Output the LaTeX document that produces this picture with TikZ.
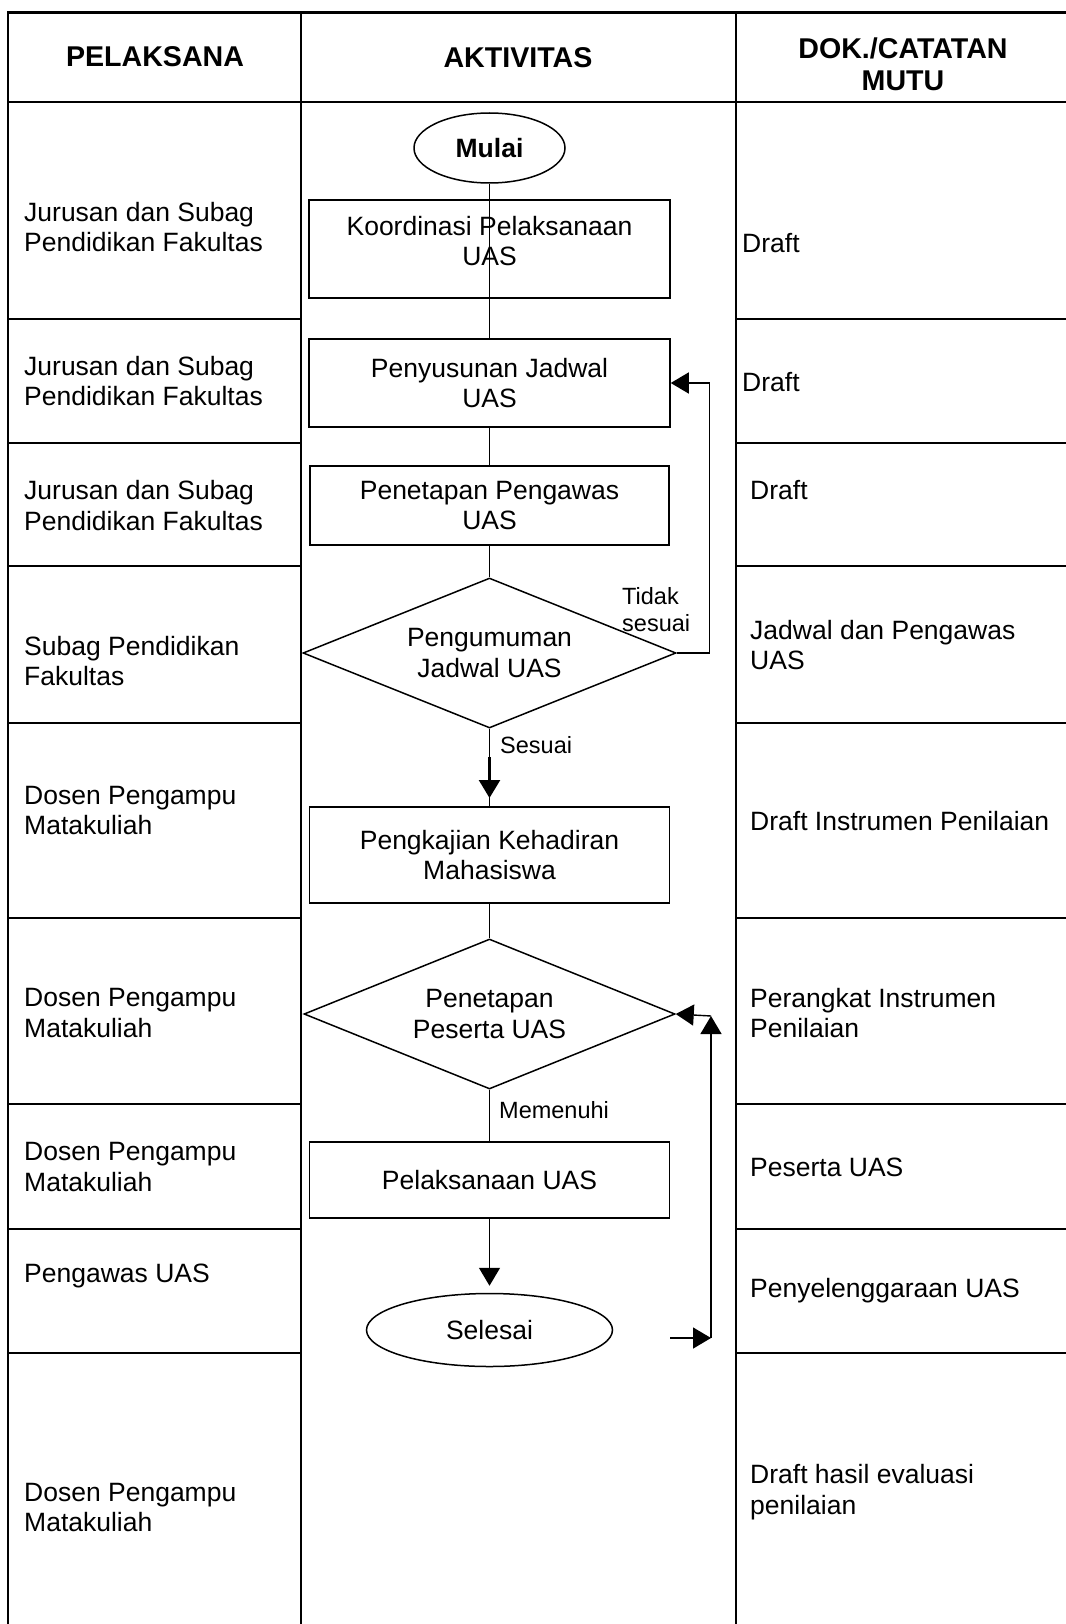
\documentclass[tikz,border=0pt]{standalone}
\usepackage{fontspec}
\setmainfont{Liberation Sans}
\usetikzlibrary{shapes.geometric,arrows.meta}
\newcommand\fmain{\fontsize{26.5}{30.5}\selectfont}
\newcommand\fhead{\fontsize{28.6}{32}\selectfont\bfseries}
\newcommand\flab{\fontsize{23.5}{27}\selectfont}
\tikzset{
  grid/.style={line width=2.4pt},
  box/.style={draw, line width=1.5pt, rectangle, inner sep=0pt, align=center, font=\fmain},
  dia/.style={draw, line width=1.5pt, diamond, aspect=2.5, inner sep=0pt, align=center, font=\fmain},
  oval/.style={draw, line width=1.5pt, ellipse, inner sep=0pt, font=\fmain},
  conn/.style={line width=1.4pt},
  arr/.style={line width=1.4pt, -{Triangle[length=18pt,width=21pt]}},
  lt/.style={anchor=west, align=left, inner sep=0pt, font=\fmain},
  hd/.style={align=center, inner sep=0pt, font=\fhead},
  lb/.style={anchor=west, align=left, inner sep=0pt, font=\flab}
}
\begin{document}
\begin{tikzpicture}[x=1pt,y=-1pt]
\useasboundingbox (0,0) rectangle (1065,1624);
% table
\draw[grid] (8,1640) -- (8,12.7) -- (1080,12.7);
\draw[grid] (8,102) -- (1080,102);
\draw[grid] (301,12.7) -- (301,1640);
\draw[grid] (736,12.7) -- (736,1640);
\foreach \yy in {319,443,566,723,918,1104,1229,1353}{
  \draw[grid] (8,\yy) -- (301,\yy);
  \draw[grid] (736,\yy) -- (1080,\yy);
}
% headers
\node[hd] (h1) at (155,57) {PELAKSANA};
\node[hd] (h2) at (518,58) {AKTIVITAS};
\node[hd] (h3) at (903,64) {DOK./CATATAN\\MUTU};
% left column
\node[lt] (p1) at (24,227) {Jurusan dan Subag\\Pendidikan Fakultas};
\node[lt] (p2) at (24,381) {Jurusan dan Subag\\Pendidikan Fakultas};
\node[lt] (p3) at (24,505.5) {Jurusan dan Subag\\Pendidikan Fakultas};
\node[lt] (p4) at (24,661) {Subag Pendidikan\\Fakultas};
\node[lt] (p5) at (24,810.5) {Dosen Pengampu\\Matakuliah};
\node[lt] (p6) at (24,1013) {Dosen Pengampu\\Matakuliah};
\node[lt] (p7) at (24,1167) {Dosen Pengampu\\Matakuliah};
\node[lt] (p8) at (24,1276) {Pengawas UAS};
\node[lt] (p9) at (24,1507.5) {Dosen Pengampu\\Matakuliah};
% right column
\node[lt] (d1t) at (742,243) {Draft};
\node[lt] (d2t) at (742,382) {Draft};
\node[lt] (d3t) at (750,490) {Draft};
\node[lt] (d4t) at (750,645) {Jadwal dan Pengawas\\UAS};
\node[lt] (d5t) at (750,821) {Draft Instrumen Penilaian};
\node[lt] (d6t) at (750,1013) {Perangkat Instrumen\\Penilaian};
\node[lt] (d7t) at (750,1167) {Peserta UAS};
\node[lt] (d8t) at (750,1291) {Penyelenggaraan UAS};
\node[lt] (d9t) at (750,1492) {Draft hasil evaluasi\\penilaian};
% flow
\node[oval, minimum width=151pt, minimum height=70pt, font=\fmain\bfseries] (mulai) at (489.5,148) {Mulai};
\node[box, minimum width=361pt, minimum height=98pt,
  label={[align=center, font=\fmain, yshift=8pt]center:{Koordinasi Pelaksanaan\\UAS}}] (b1) at (489.5,249) {};
\node[box, minimum width=361pt, minimum height=88pt] (b2) at (489.5,383) {Penyusunan Jadwal\\UAS};
\node[box, minimum width=359pt, minimum height=79pt] (b3) at (489.5,505.5) {Penetapan Pengawas\\UAS};
\node[dia, minimum width=373pt, minimum height=150pt] (d1) at (489.5,653) {Pengumuman\\Jadwal UAS};
\node[box, minimum width=360pt, minimum height=96pt] (b4) at (489.5,855) {Pengkajian Kehadiran\\Mahasiswa};
\node[dia, minimum width=371pt, minimum height=150pt] (d2) at (489.5,1014) {Penetapan\\Peserta UAS};
\node[box, minimum width=360pt, minimum height=76pt] (b5) at (489.5,1180) {Pelaksanaan UAS};
\node[oval, minimum width=246pt, minimum height=73pt] (sel) at (489.5,1330) {Selesai};
% labels
\node[lb] (ltidak) at (622,609.5) {Tidak\\sesuai};
\node[lb] (lsesuai) at (500,745) {Sesuai};
\node[lb] (lmem) at (499,1110) {Memenuhi};
% connectors
\draw[conn] (mulai.south) -- (b2.north);
\draw[conn] (b2.south) -- (b3.north);
\draw[conn] (b3.south) -- (d1.north);
\draw[conn] (d1.south) -- (b4.north);
\coordinate (s1) at (489.5,757);
\coordinate (s2) at (489.5,798);
\draw[arr, line width=2.4pt] (s1) -- (s2);
\draw[conn] (b4.south) -- (d2.north);
\draw[conn] (d2.south) -- (b5.north);
\draw[arr, shorten >=7pt] (b5.south) -- (sel.north);
\coordinate (rx1) at (709.5,653);
\draw[arr] (d1.east) -- (rx1) |- (b2.east);
\coordinate (r2s) at (670,1338);
\coordinate (r2b) at (711,1338);
\coordinate (r2t) at (711,1016);
\draw[arr] (r2s) -- (r2b);
\draw[arr] (r2b) -- (r2t);
\draw[arr] (r2t) -- (d2.east);
\end{tikzpicture}
\end{document}
